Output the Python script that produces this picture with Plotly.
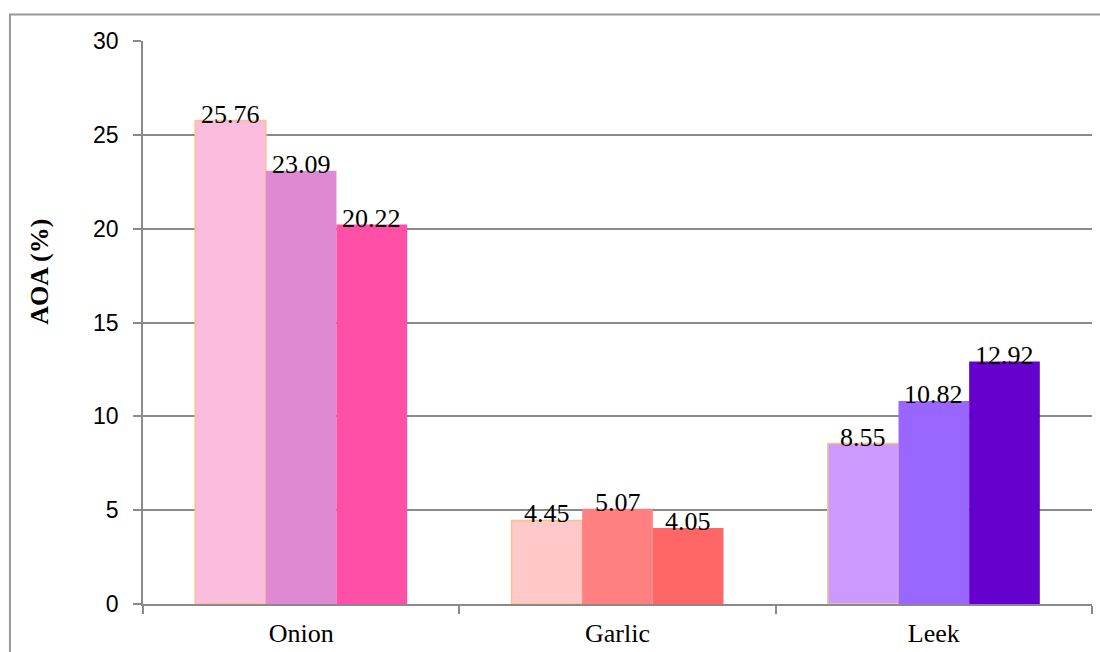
import plotly.graph_objects as go

categories = ["Onion", "Garlic", "Leek"]
series1 = [25.76, 4.45, 8.55]
series2 = [23.09, 5.07, 10.82]
series3 = [20.22, 4.05, 12.92]
labels1 = ["25.76", "4.45", "8.55"]
labels2 = ["23.09", "5.07", "10.82"]
labels3 = ["20.22", "4.05", "12.92"]
y_ticks = [0, 5, 10, 15, 20, 25, 30]

colors1 = ["#FBBCDD", "#FFC9C9", "#CC99FF"]
colors2 = ["#DE89D2", "#FF8080", "#9966FF"]
colors3 = ["#FF4FA6", "#FF6666", "#6600CC"]

BARGAP = 0.33
GRID = "#8a8a8a"

fig = go.Figure()
all_series = [series1, series2, series3]
all_labels = [labels1, labels2, labels3]
all_colors = [colors1, colors2, colors3]
for j, (vals, cols) in enumerate(zip(all_series, all_colors)):
    fig.add_trace(go.Bar(
        x=categories, y=vals,
        marker=dict(color=cols,
                    line=dict(color="#FAC08F" if j == 0 else "rgba(0,0,0,0)",
                              width=1.5 if j == 0 else 0)),
        showlegend=False, hoverinfo="skip",
    ))

w = (1 - BARGAP) / 3
annotations = []
for j, (vals, labs) in enumerate(zip(all_series, all_labels)):
    for i, (v, t) in enumerate(zip(vals, labs)):
        annotations.append(dict(
            x=i + (j - 1) * w, y=v, xref="x", yref="y", text=t,
            showarrow=False, xanchor="center", yanchor="bottom", yshift=-10,
            font=dict(family="Liberation Serif", size=26, color="black"),
        ))

annotations.append(dict(
    x=-0.1085, y=0.59, xref="paper", yref="paper", text="<b>AOA (%)</b>",
    textangle=-90, showarrow=False, xanchor="center", yanchor="middle",
    font=dict(family="Liberation Serif", size=26, color="black"),
))

fig.update_layout(
    width=1100, height=652,
    margin=dict(l=143, r=8, t=41, b=48),
    paper_bgcolor="white", plot_bgcolor="white",
    barmode="group", bargap=BARGAP, bargroupgap=0,
    annotations=annotations,
    shapes=[dict(type="rect", xref="paper", yref="paper",
                 x0=-0.1402, x1=1.2, y0=-0.3, y1=1.047,
                 line=dict(color="#999999", width=2), layer="below")],
    xaxis=dict(
        type="category", tickson="boundaries", ticks="outside", ticklen=8,
        tickcolor=GRID, tickwidth=1.5, showline=True, linecolor=GRID, linewidth=1.5,
        showgrid=False, ticklabelstandoff=5, automargin=False,
        tickfont=dict(family="Liberation Serif", size=26, color="black"),
    ),
    yaxis=dict(
        range=[0, 30], tickvals=y_ticks, ticks="outside", ticklen=8,
        tickcolor=GRID, tickwidth=1.5, showline=True, linecolor=GRID, linewidth=1.5,
        showgrid=True, gridcolor=GRID, gridwidth=1.5, zeroline=False,
        ticklabelstandoff=10, automargin=False,
        tickfont=dict(family="Liberation Sans", size=23, color="black"),
    ),
)

fig.write_html("out.html")
